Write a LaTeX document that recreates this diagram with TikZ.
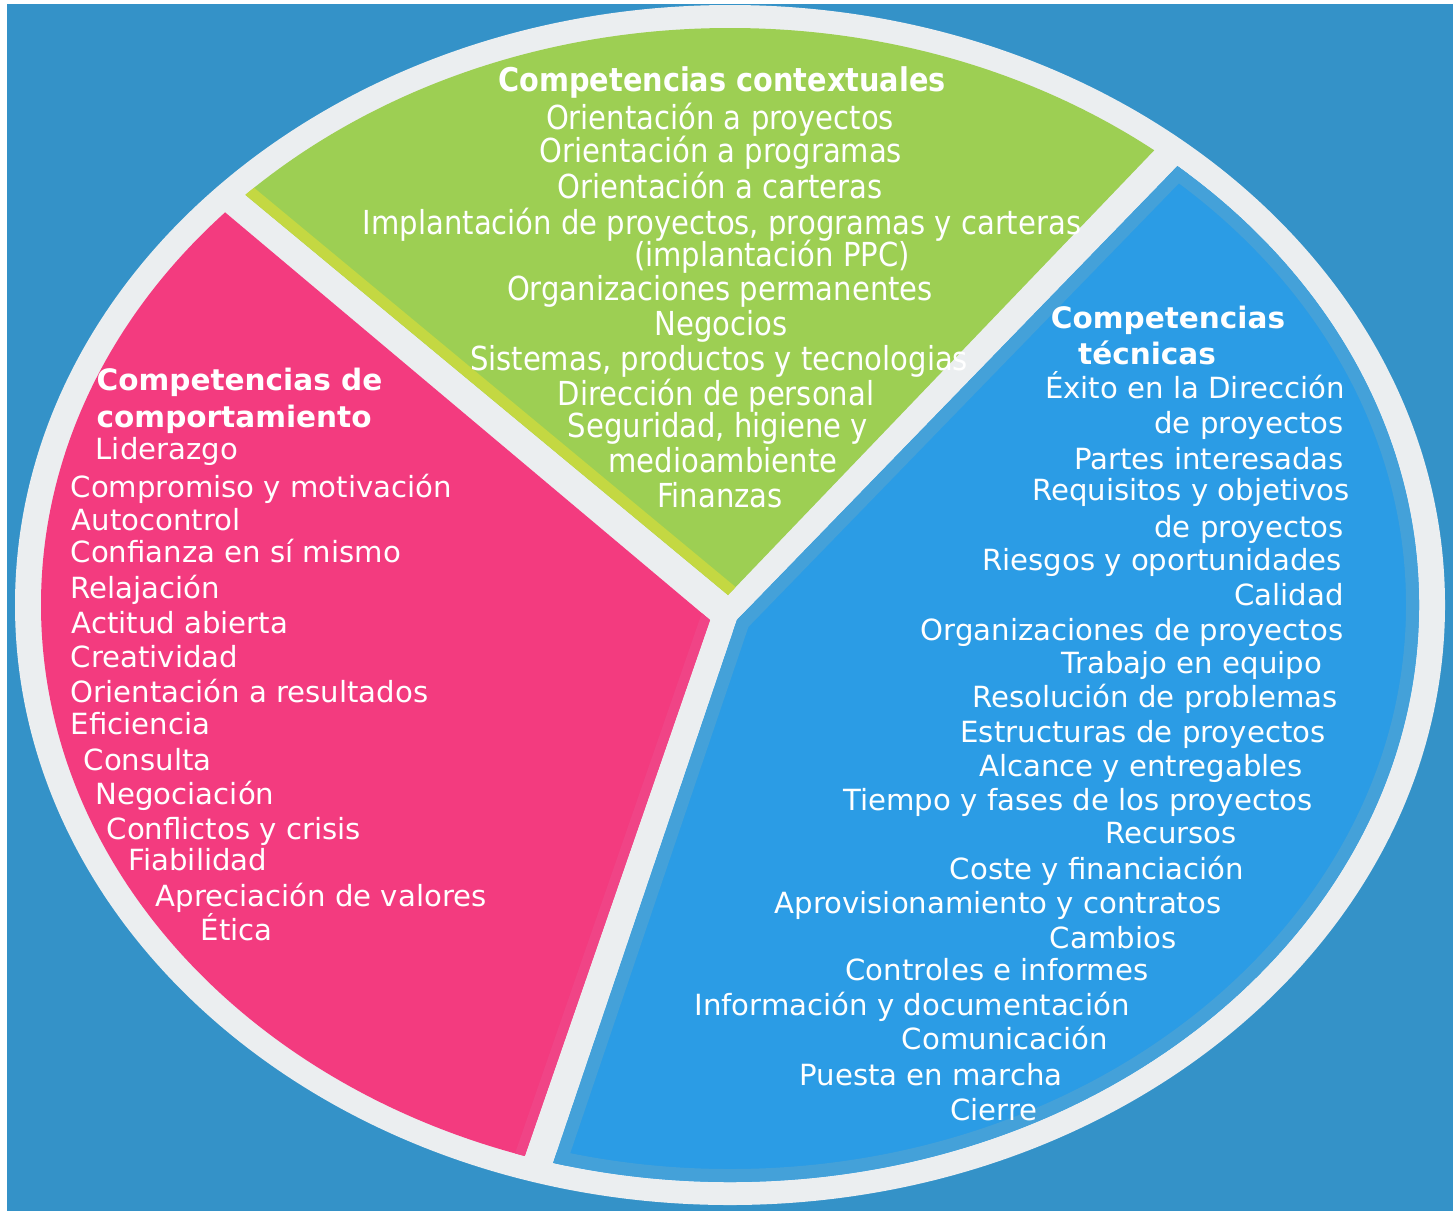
\documentclass[tikz,border=0pt]{standalone}
\usepackage{fontspec}
\setmainfont{DejaVu Sans}
\newfontfamily\estrecha[FakeStretch=0.88]{DejaVu Sans}
\usepackage{pgf,tikz}
\definecolor{fondo}{RGB}{52,146,200}
\definecolor{aro}{RGB}{235,238,240}
\definecolor{verde}{RGB}{157,207,83}
\definecolor{verdeborde}{RGB}{196,216,66}
\definecolor{rosa}{RGB}{243,59,127}
\definecolor{rosaborde}{RGB}{240,68,134}
\definecolor{azul}{RGB}{43,156,229}
\definecolor{azulborde}{RGB}{68,161,217}
\begin{document}
\begin{tikzpicture}[line cap=round,line join=round,x=1.0cm,y=1.0cm,
  txt/.style={text=white,inner sep=0pt,text height=6pt,text depth=1.6pt,font=\fontsize{8.3}{10}\selectfont},
  tit/.style={txt,font=\fontsize{8.4}{10}\selectfont\bfseries},
  txtv/.style={txt,font=\fontsize{9.4}{11}\selectfont\estrecha},
  titv/.style={txt,font=\fontsize{9.3}{11}\selectfont\estrecha\bfseries}]
\useasboundingbox (0,0) rectangle (14.53,12.11);
\fill[white] (0,0) rectangle (14.53,12.11);
\fill[fondo] (0.07,0) rectangle (14.53,12.07);
\fill[aro] (7.30,6.06) ellipse (7.15cm and 6.00cm);
% sector verde
\begin{scope}
\clip (7.30,6.06) ellipse (6.89cm and 5.77cm);
\clip (7.28,6.16) -- (0.96,11.40) -- (0.96,13) -- (12.80,13) -- (12.80,11.92) -- cycle;
\fill[verde] (0,0) rectangle (14.53,12.11);
\draw[verdeborde,line width=0.22cm] (7.28,6.16) -- (0.96,11.40);
\end{scope}
% sector rosa
\begin{scope}
\clip (7.30,6.06) ellipse (6.89cm and 5.77cm);
\clip (7.10,5.91) -- (0.76,11.24) -- (-0.5,11.24) -- (-0.5,-0.57) -- (4.86,-0.57) -- cycle;
\fill[rosa] (0,0) rectangle (14.53,12.11);
\draw[rosaborde,line width=0.2cm] (7.10,5.91) -- (4.86,-0.57);
\end{scope}
% sector azul
\begin{scope}
\clip (7.30,6.06) ellipse (6.89cm and 5.77cm);
\clip (7.37,5.91) -- (12.63,11.33) -- (15,11.33) -- (15,-0.5) -- (5.20,-0.5) -- cycle;
\fill[azul] (0,0) rectangle (14.53,12.11);
\draw[azulborde,line width=0.26cm] (7.30,6.06) ellipse (6.89cm and 5.77cm);
\draw[azulborde,line width=0.26cm] (7.37,5.91) -- (12.63,11.33);
\draw[azulborde,line width=0.26cm] (7.37,5.91) -- (5.20,-0.5);
\end{scope}
\begin{scope}[yshift=-0.05cm]
% competencias contextuales
\draw (7.22,11.32) node[titv] (v0) {Competencias contextuales};
\draw (7.20,10.94) node[txtv] (v1) {Orientación a proyectos};
\draw (7.21,10.61) node[txtv] (v2) {Orientación a programas};
\draw (7.20,10.25) node[txtv] (v3) {Orientación a carteras};
\draw (7.22,9.89) node[txtv] (v4) {Implantación de proyectos, programas y carteras};
\draw (7.72,9.57) node[txtv] (v5) {(implantación PPC)};
\draw (7.20,9.23) node[txtv] (v6) {Organizaciones permanentes};
\draw (7.21,8.88) node[txtv] (v7) {Negocios};
\draw (7.19,8.53) node[txtv] (v8) {Sistemas, productos y tecnologias};
\draw (7.16,8.18) node[txtv] (v9) {Dirección de personal};
\draw (7.18,7.86) node[txtv] (v10) {Seguridad, higiene y};
\draw (7.23,7.51) node[txtv] (v11) {medioambiente};
\draw (7.20,7.16) node[txtv] (v12) {Finanzas};
% competencias de comportamiento
\draw (0.96,8.33) node[tit,anchor=west] (r0) {Competencias de};
\draw (0.96,7.96) node[tit,anchor=west] (r00) {comportamiento};
\draw (0.95,7.64) node[txt,anchor=west] (r1) {Liderazgo};
\draw (0.70,7.26) node[txt,anchor=west] (r2) {Compromiso y motivación};
\draw (0.71,6.93) node[txt,anchor=west] (r3) {Autocontrol};
\draw (0.70,6.61) node[txt,anchor=west] (r4) {Confianza en sí mismo};
\draw (0.70,6.25) node[txt,anchor=west] (r5) {Relajación};
\draw (0.71,5.90) node[txt,anchor=west] (r6) {Actitud abierta};
\draw (0.70,5.56) node[txt,anchor=west] (r7) {Creatividad};
\draw (0.70,5.21) node[txt,anchor=west] (r8) {Orientación a resultados};
\draw (0.70,4.89) node[txt,anchor=west] (r9) {Eficiencia};
\draw (0.83,4.53) node[txt,anchor=west] (r10) {Consulta};
\draw (0.95,4.19) node[txt,anchor=west] (r11) {Negociación};
\draw (1.06,3.84) node[txt,anchor=west] (r12) {Conflictos y crisis};
\draw (1.28,3.53) node[txt,anchor=west] (r13) {Fiabilidad};
\draw (1.55,3.17) node[txt,anchor=west] (r14) {Apreciación de valores};
\draw (2.00,2.83) node[txt,anchor=west] (r15) {Ética};
% competencias tecnicas
\draw (11.68,8.95) node[tit] (a0) {Competencias};
\draw (11.47,8.59) node[tit] (a00) {técnicas};
\draw (11.95,8.25) node[txt] (a1) {Éxito en la Dirección};
\draw (12.49,7.90) node[txt] (a2) {de proyectos};
\draw (12.09,7.54) node[txt] (a3) {Partes interesadas};
\draw (11.91,7.23) node[txt] (a4) {Requisitos y objetivos};
\draw (12.49,6.86) node[txt] (a5) {de proyectos};
\draw (11.62,6.53) node[txt] (a6) {Riesgos y oportunidades};
\draw (12.89,6.18) node[txt] (a7) {Calidad};
\draw (11.32,5.83) node[txt] (a8) {Organizaciones de proyectos};
\draw (11.92,5.50) node[txt] (a9) {Trabajo en equipo};
\draw (11.55,5.16) node[txt] (a10) {Resolución de problemas};
\draw (11.43,4.81) node[txt] (a11) {Estructuras de proyectos};
\draw (11.41,4.47) node[txt] (a12) {Alcance y entregables};
\draw (10.78,4.13) node[txt] (a13) {Tiempo y fases de los proyectos};
\draw (11.71,3.80) node[txt] (a14) {Recursos};
\draw (10.97,3.44) node[txt] (a15) {Coste y financiación};
\draw (9.98,3.10) node[txt] (a16) {Aprovisionamiento y contratos};
\draw (11.13,2.75) node[txt] (a17) {Cambios};
\draw (9.97,2.43) node[txt] (a18) {Controles e informes};
\draw (9.12,2.08) node[txt] (a19) {Información y documentación};
\draw (10.05,1.74) node[txt] (a20) {Comunicación};
\draw (9.31,1.38) node[txt] (a21) {Puesta en marcha};
\draw (9.94,1.03) node[txt] (a22) {Cierre};
\end{scope}
\end{tikzpicture}
\end{document}
